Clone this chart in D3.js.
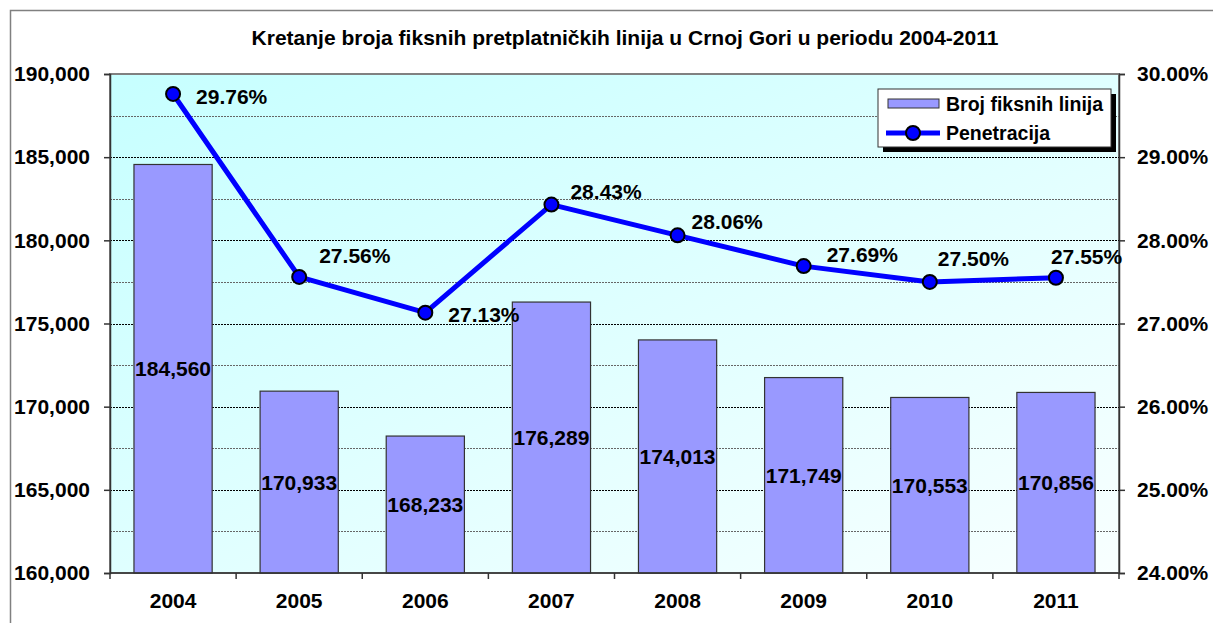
<!DOCTYPE html>
<html>
<head>
<meta charset="utf-8">
<script src="https://cdn.jsdelivr.net/npm/d3@7"></script>
<style>
    body { margin: 0; background: #fff; }
    svg { display: block; font-family: "Liberation Sans", Arial, sans-serif; font-weight: bold; }
</style>
</head>
<body>
<svg width="1213" height="623"></svg>
<script>
(function() {

    const years = ['2004', '2005', '2006', '2007', '2008', '2009', '2010', '2011'];
    const lines = [184560, 170933, 168233, 176289, 174013, 171749, 170553, 170856];
    const penetration = [29.76, 27.56, 27.13, 28.43, 28.06, 27.69, 27.50, 27.55];
    const leftTicks = [160000, 165000, 170000, 175000, 180000, 185000, 190000];
    const rightTicks = [24, 25, 26, 27, 28, 29, 30];
    const title = 'Kretanje broja fiksnih pretplatničkih linija u Crnoj Gori u periodu 2004-2011';
    const legendNames = ['Broj fiksnih linija', 'Penetracija'];

    // hand placed label offsets for the line labels (dx, dy from the point)
    const labelDx = [23, 20, 23, 19, 14, 23, 8, -5];
    const labelDy = [2, -21, 2, -13, -14, -12, -23, -21];

    const m = { left: 110, top: 74, right: 1119, bottom: 573 };
    const fs = 21;

    const svg = d3.select('svg');

    const defs = svg.append('defs');
    const grad = defs.append('linearGradient')
        .attr('id', 'bg')
        .attr('x1', 0).attr('y1', 0).attr('x2', 1).attr('y2', 1);
    grad.append('stop').attr('offset', 0).attr('stop-color', '#c6ffff');
    grad.append('stop').attr('offset', 1).attr('stop-color', '#f8ffff');

    // outer chart border
    svg.append('rect')
        .attr('x', 10.5).attr('y', 10.5)
        .attr('width', 1300).attr('height', 800)
        .attr('fill', 'none')
        .attr('stroke', '#808080')
        .attr('stroke-width', 1.5);

    svg.append('text')
        .attr('x', 625).attr('y', 45)
        .attr('text-anchor', 'middle')
        .style('font-size', '21px')
        .text(title);

    const x = d3.scaleBand()
        .domain(years)
        .range([m.left, m.right])
        .paddingInner(0.38)
        .paddingOuter(0.19);

    const yL = d3.scaleLinear().domain([160000, 190000]).range([m.bottom, m.top]);
    const yR = d3.scaleLinear().domain([24, 30]).range([m.bottom, m.top]);

    // plot background
    svg.append('rect')
        .attr('x', m.left).attr('y', m.top)
        .attr('width', m.right - m.left).attr('height', m.bottom - m.top)
        .attr('fill', 'url(#bg)')
        .attr('stroke', '#808080')
        .attr('stroke-width', 2);

    // gridlines: majors every 5000, minors in between
    const minor = d3.range(162500, 190000, 5000);
    svg.append('g').selectAll('line')
        .data(minor)
        .enter().append('line')
        .attr('x1', m.left).attr('x2', m.right)
        .attr('y1', d => Math.round(yL(d)) + 0.5).attr('y2', d => Math.round(yL(d)) + 0.5)
        .attr('stroke', '#666')
        .attr('stroke-dasharray', '2,1');

    svg.append('g').selectAll('line')
        .data(leftTicks.slice(1, -1))
        .enter().append('line')
        .attr('x1', m.left).attr('x2', m.right)
        .attr('y1', d => Math.round(yL(d)) + 0.5).attr('y2', d => Math.round(yL(d)) + 0.5)
        .attr('stroke', '#000')
        .attr('stroke-dasharray', '2,1');

    // bars
    svg.append('g').selectAll('rect')
        .data(lines)
        .enter().append('rect')
        .attr('x', (d, i) => x(years[i]))
        .attr('y', d => yL(d))
        .attr('width', x.bandwidth())
        .attr('height', d => m.bottom - yL(d))
        .attr('fill', '#9999ff')
        .attr('stroke', '#333')
        .attr('stroke-width', 1.2);

    svg.append('g').selectAll('text')
        .data(lines)
        .enter().append('text')
        .attr('x', (d, i) => x(years[i]) + x.bandwidth() / 2)
        .attr('y', d => (yL(d) + m.bottom) / 2)
        .attr('dy', '0.36em')
        .attr('text-anchor', 'middle')
        .style('font-size', fs + 'px')
        .text(d => d3.format(',')(d));

    // axes
    const axisL = svg.append('g')
        .attr('transform', `translate(${m.left},0)`)
        .call(d3.axisLeft(yL).tickValues(leftTicks).tickFormat(d3.format(',')).tickSize(6).tickPadding(14));
    const axisR = svg.append('g')
        .attr('transform', `translate(${m.right},0)`)
        .call(d3.axisRight(yR).tickValues(rightTicks).tickFormat(d => d.toFixed(2) + '%').tickSize(6).tickPadding(12));
    const axisB = svg.append('g')
        .attr('transform', `translate(0,${m.bottom})`)
        .call(d3.axisBottom(x).tickSize(0).tickPadding(20));

    // category boundary ticks on the x axis
    const step = x.step();
    svg.append('g').selectAll('line')
        .data(d3.range(years.length + 1))
        .enter().append('line')
        .attr('x1', i => m.left + i * step).attr('x2', i => m.left + i * step)
        .attr('y1', m.bottom).attr('y2', m.bottom + 6)
        .attr('stroke', '#333')
        .attr('stroke-width', 1.5);

    [axisL, axisR, axisB].forEach(a => {
        a.select('.domain').attr('stroke', '#333').attr('stroke-width', 1.5);
        a.selectAll('.tick line').attr('stroke', '#333').attr('stroke-width', 1.5);
        a.selectAll('text')
            .attr('fill', '#000')
            .style('font-size', fs + 'px')
            .style('font-family', '"Liberation Sans", Arial, sans-serif')
            .style('font-weight', 'bold');
    });
    axisB.select('.domain').attr('d', `M${m.left},0H${m.right}`);

    // penetration line
    const pts = penetration.map((d, i) => [x(years[i]) + x.bandwidth() / 2, yR(d)]);
    svg.append('path')
        .datum(pts)
        .attr('d', d3.line())
        .attr('fill', 'none')
        .attr('stroke', '#0000ff')
        .attr('stroke-width', 5)
        .attr('stroke-linejoin', 'round');

    svg.append('g').selectAll('circle')
        .data(pts)
        .enter().append('circle')
        .attr('cx', d => d[0]).attr('cy', d => d[1])
        .attr('r', 7)
        .attr('fill', '#0000ff')
        .attr('stroke', '#000')
        .attr('stroke-width', 2);

    svg.append('g').selectAll('text')
        .data(penetration)
        .enter().append('text')
        .attr('x', (d, i) => pts[i][0] + labelDx[i])
        .attr('y', (d, i) => pts[i][1] + labelDy[i])
        .attr('dy', '0.36em')
        .style('font-size', fs + 'px')
        .text(d => d.toFixed(2) + '%');

    // legend
    const lg = svg.append('g').attr('transform', 'translate(878,89)');
    lg.append('rect')
        .attr('x', 5).attr('y', 5).attr('width', 233).attr('height', 58)
        .attr('fill', '#000');
    lg.append('rect')
        .attr('x', 0).attr('y', 0).attr('width', 233).attr('height', 58)
        .attr('fill', '#fff').attr('stroke', '#333').attr('stroke-width', 1);
    lg.append('rect')
        .attr('x', 10).attr('y', 10).attr('width', 51).attr('height', 9)
        .attr('fill', '#9999ff').attr('stroke', '#333');
    lg.append('line')
        .attr('x1', 8).attr('x2', 62).attr('y1', 44).attr('y2', 44)
        .attr('stroke', '#0000ff').attr('stroke-width', 5);
    lg.append('circle')
        .attr('cx', 35).attr('cy', 44).attr('r', 7)
        .attr('fill', '#0000ff').attr('stroke', '#000').attr('stroke-width', 2);
    lg.selectAll('text.lg')
        .data(legendNames)
        .enter().append('text')
        .attr('class', 'lg')
        .attr('x', 68)
        .attr('y', (d, i) => 15 + i * 29)
        .attr('dy', '0.36em')
        .style('font-size', '19.5px')
        .text(d => d);

})();
</script>
</body>
</html>
